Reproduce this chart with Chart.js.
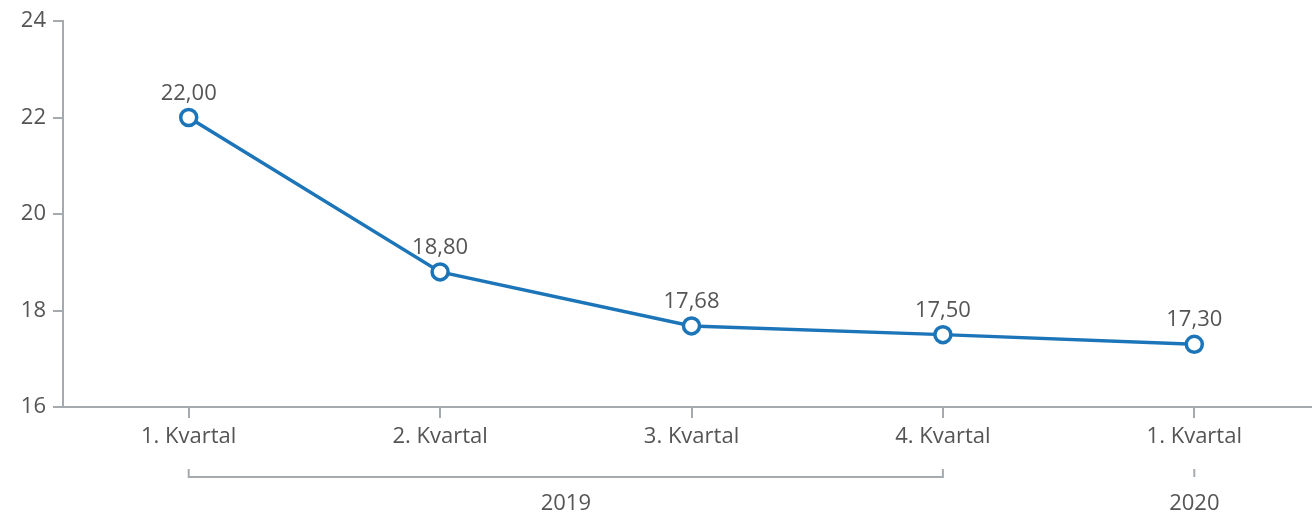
<!DOCTYPE html>
<html>
<head>
<meta charset="utf-8">
<script src="https://cdn.jsdelivr.net/npm/chart.js@4"></script>
<style>
  html, body { margin: 0; padding: 0; background: #fff; }
  #wrap { width: 1312px; height: 515px; }
</style>
</head>
<body>
<div id="wrap"><canvas id="myChart"></canvas></div>
<script>
  const categories = ['1. Kvartal', '2. Kvartal', '3. Kvartal', '4. Kvartal', '1. Kvartal'];
  const values = [22.00, 18.80, 17.68, 17.50, 17.30];
  const years = [{ label: '2019', from: 0, to: 3 }, { label: '2020', from: 4, to: 4 }];
  const yTicks = [16, 18, 20, 22, 24];

  const textColor = '#555555';
  const axisColor = '#a5aaaf';
  const lineColor = '#1c75b8';
  const font = { family: 'Open Sans', size: 22 };

  // the original axis runs past the right edge, so stretch the x scale a bit
  const stretchX = {
    id: 'stretchX',
    afterLayout(chart) {
      const x = chart.scales.x;
      x.right = x.left + 1257;
      x.width = 1257;
      x.configure();
    }
  };

  // data labels above points + year brackets under x axis
  const extras = {
    id: 'extras',
    afterDatasetsDraw(chart) {
      const ctx = chart.ctx;
      const meta = chart.getDatasetMeta(0);
      const x = chart.scales.x;
      ctx.save();
      ctx.font = font.size + 'px ' + font.family;
      ctx.fillStyle = textColor;
      ctx.textAlign = 'center';
      ctx.textBaseline = 'alphabetic';
      meta.data.forEach((pt, i) => {
        ctx.fillText(values[i].toFixed(2).replace('.', ','), pt.x, pt.y - 18);
      });

      const top = x.top + 62;
      const bot = top + 8;
      ctx.strokeStyle = axisColor;
      ctx.lineWidth = 2;
      years.forEach(g => {
        const x0 = x.getPixelForValue(g.from);
        const x1 = x.getPixelForValue(g.to);
        ctx.beginPath();
        if (g.from === g.to) {
          ctx.moveTo(x0, top);
          ctx.lineTo(x0, bot);
        } else {
          ctx.moveTo(x0, top);
          ctx.lineTo(x0, bot);
          ctx.lineTo(x1, bot);
          ctx.lineTo(x1, top);
        }
        ctx.stroke();
        ctx.fillText(g.label, (x0 + x1) / 2, bot + 33);
      });
      ctx.restore();
    }
  };

  new Chart(document.getElementById('myChart'), {
    type: 'line',
    data: {
      labels: categories,
      datasets: [{
        data: values,
        borderColor: lineColor,
        borderWidth: 3.5,
        backgroundColor: '#fff',
        pointBackgroundColor: '#fff',
        pointBorderColor: lineColor,
        pointBorderWidth: 3.5,
        pointRadius: 8,
        tension: 0,
        clip: false
      }]
    },
    plugins: [stretchX, extras],
    options: {
      responsive: true,
      maintainAspectRatio: false,
      animation: false,
      layout: { padding: { top: 21, right: 2, left: 0, bottom: 0 } },
      plugins: {
        legend: { display: false },
        tooltip: { enabled: false }
      },
      scales: {
        x: {
          offset: true,
          border: { color: axisColor, width: 2 },
          grid: { offset: false, drawOnChartArea: false, color: axisColor, lineWidth: 2, tickLength: 11 },
          ticks: { color: textColor, font: font, padding: 6, maxRotation: 0 },
          afterFit(s) { s.height = 108; }
        },
        y: {
          min: 16,
          max: 24,
          afterBuildTicks(s) { s.ticks = yTicks.map(v => ({ value: v })); },
          border: { color: axisColor, width: 2 },
          grid: { drawOnChartArea: false, color: axisColor, lineWidth: 2, tickLength: 10 },
          ticks: { color: textColor, font: font, padding: 7 },
          afterFit(s) { s.width = 63; }
        }
      }
    }
  });
</script>
</body>
</html>
